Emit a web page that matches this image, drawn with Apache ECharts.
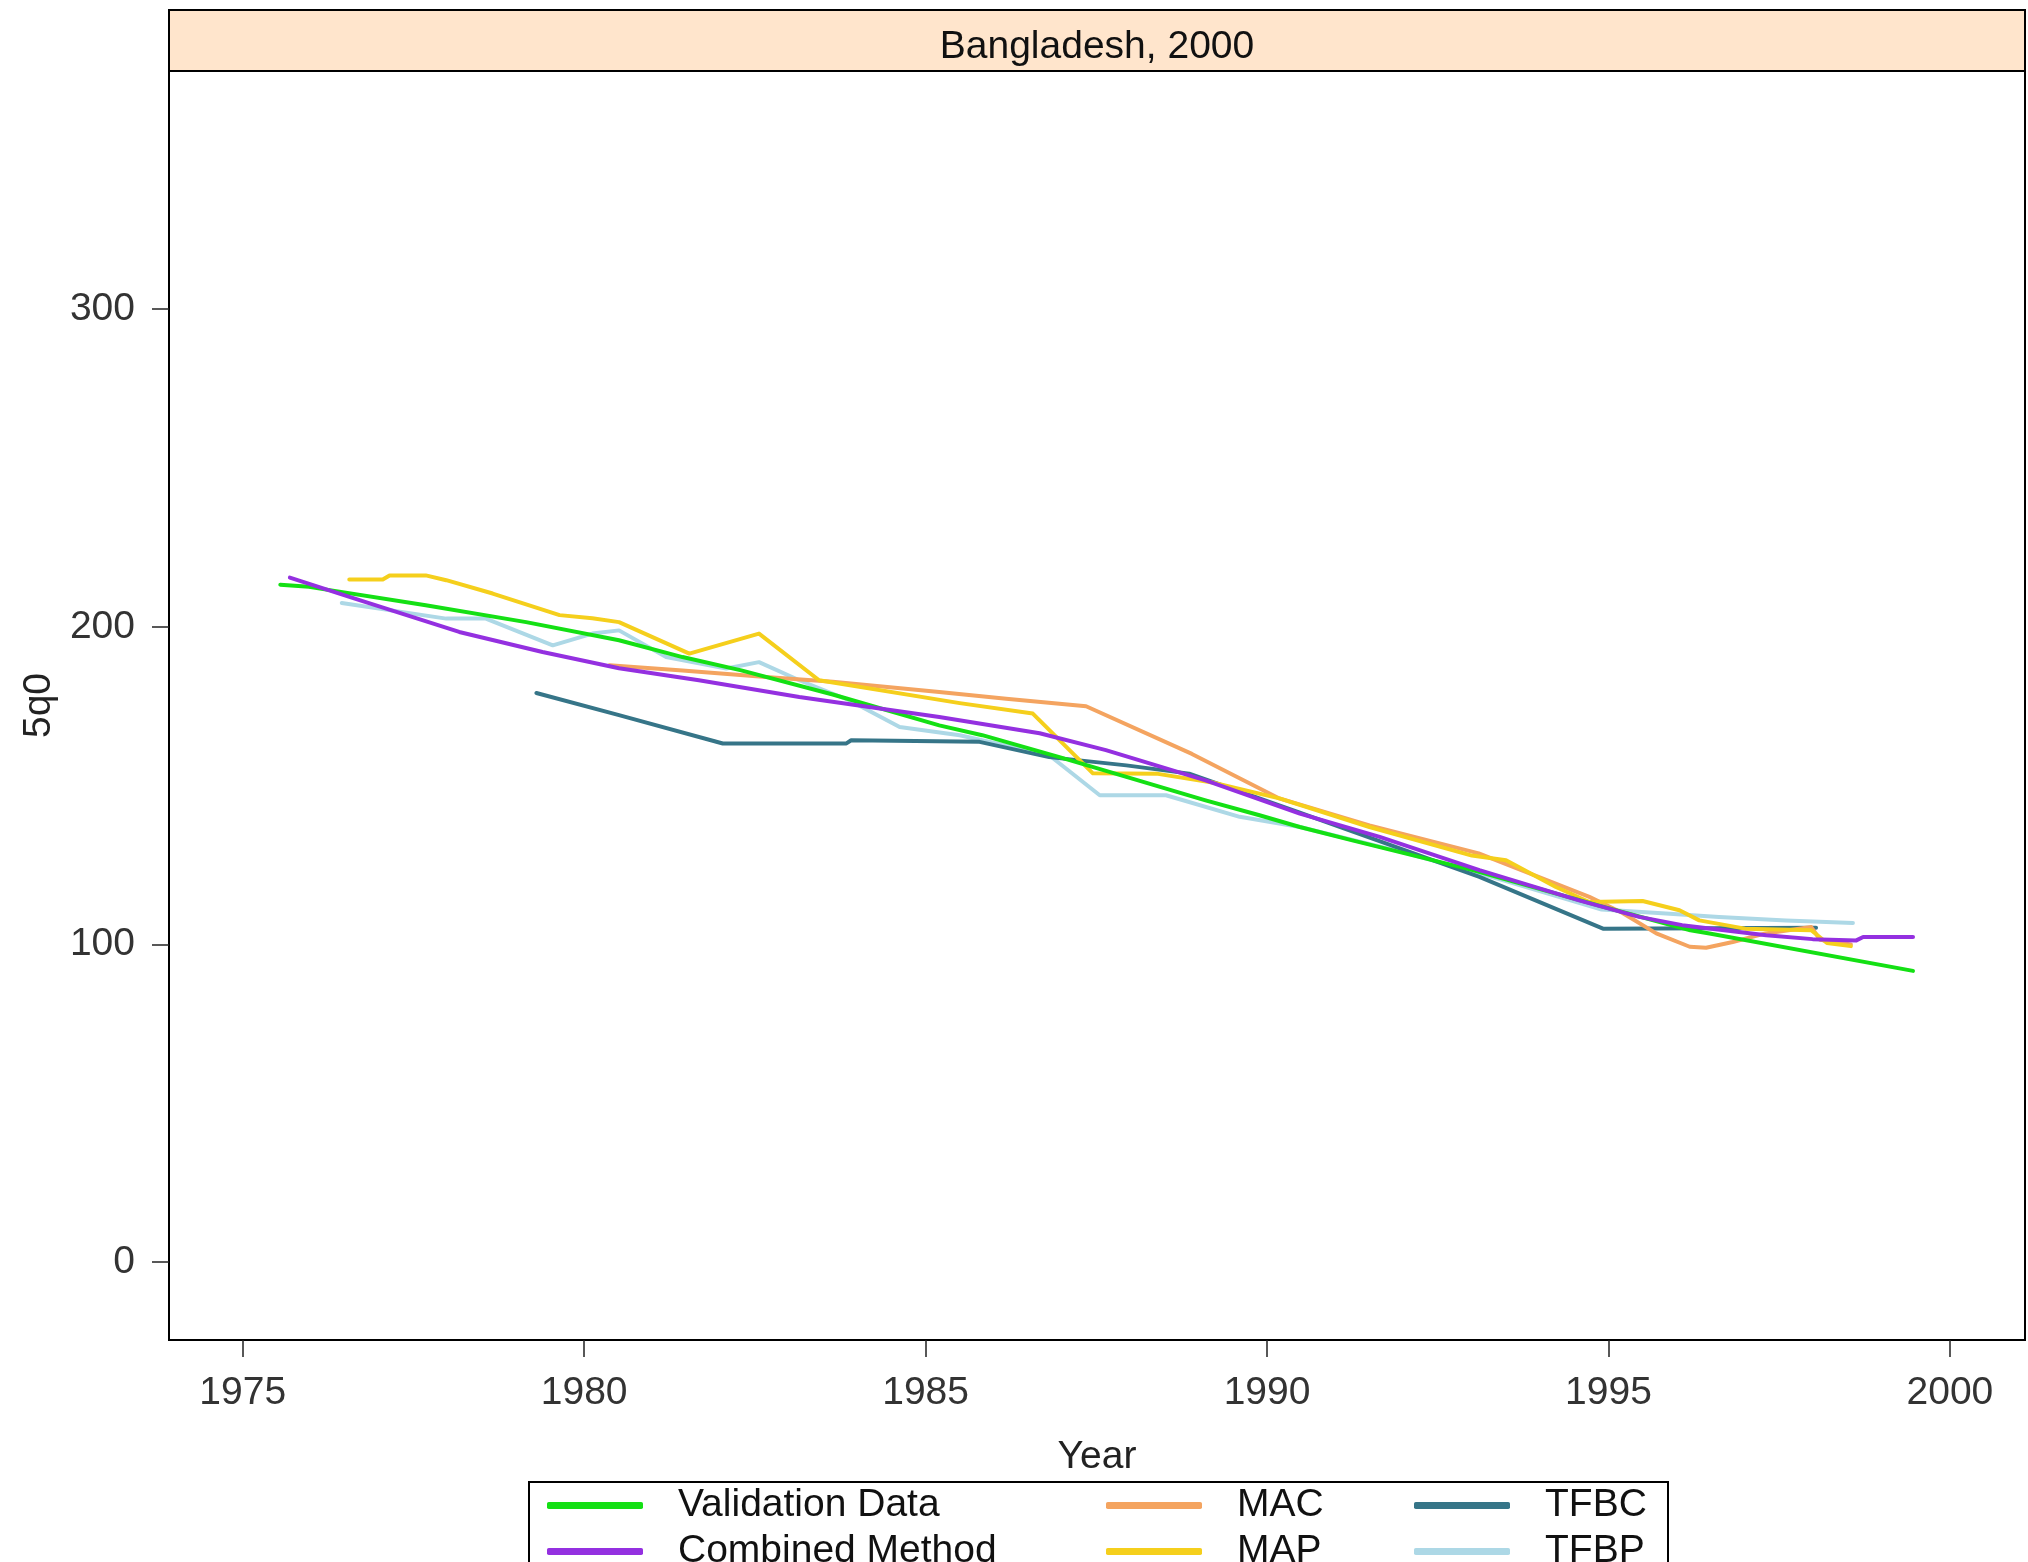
<!DOCTYPE html>
<html>
<head>
<meta charset="utf-8">
<script src="https://cdn.jsdelivr.net/npm/echarts@6/dist/echarts.min.js"></script>
<style>html,body{margin:0;padding:0;background:#fff}#c{width:2028px;height:1562px}</style>
</head>
<body>
<div id="c"></div>
<script>
// ---- data (year, 5q0) ----
const validationData = [[1975.55,213.3],[1975.97,212.6],[1977.68,206.8],[1979.15,201.5],[1980.51,195.8],[1981.44,190.5],[1982.3,186.3],[1983.64,178.7],[1985.2,169.0],[1985.83,165.9],[1986.96,159.0],[1987.94,152.8],[1989.1,145.4],[1989.89,140.7],[1990.48,137.0],[1991.25,132.8],[1993.0,123.5],[1994.9,112.0],[1996.2,104.5],[1996.48,103.5],[1999.46,91.7]];
const combinedData = [[1975.69,215.5],[1976.71,208.4],[1978.17,198.4],[1979.39,192.1],[1980.51,187.0],[1981.68,183.2],[1983.15,177.9],[1985.2,171.6],[1986.67,166.5],[1987.64,161.2],[1989.1,151.7],[1990.48,141.2],[1991.65,133.9],[1993.11,123.4],[1994.57,113.9],[1995.45,108.7],[1996.08,106.1],[1997.31,102.9],[1997.99,101.7],[1998.63,101.3],[1998.73,102.4],[1999.46,102.4]];
const macData = [[1980.37,187.9],[1981.44,186.3],[1982.66,184.2],[1983.64,182.7],[1985.2,179.5],[1986.18,177.4],[1987.35,175.0],[1988.9,160.0],[1990.18,146.0],[1991.5,137.5],[1993.1,128.7],[1994.72,115.0],[1995.2,110.0],[1995.7,103.5],[1996.19,99.3],[1996.43,99.0],[1996.82,100.8],[1997.3,103.5],[1997.97,105.5],[1998.1,101.5],[1998.55,100.0]];
const mapData = [[1976.56,214.9],[1977.05,214.9],[1977.15,216.2],[1977.68,216.2],[1977.98,214.7],[1978.66,210.5],[1979.64,203.7],[1980.12,202.7],[1980.51,201.5],[1981.54,191.6],[1982.56,197.9],[1983.44,183.2],[1985.5,176.0],[1986.57,172.7],[1987.45,153.9],[1988.38,153.8],[1989.2,151.0],[1990.18,146.0],[1991.5,137.0],[1993.0,128.0],[1993.5,126.5],[1994.23,118.1],[1994.72,113.4],[1995.5,113.7],[1996.04,110.8],[1996.33,107.6],[1997.0,105.0],[1997.97,104.5],[1998.2,100.5],[1998.55,99.5]];
const tfbcData = [[1979.3,179.2],[1980.51,172.2],[1982.03,163.3],[1983.84,163.3],[1983.91,164.3],[1985.79,163.8],[1986.81,159.0],[1987.94,156.4],[1988.86,153.8],[1990.48,141.5],[1993.11,121.3],[1994.92,105.0],[1998.04,105.3]];
const tfbpData = [[1976.45,207.5],[1977.98,202.6],[1978.56,202.6],[1979.54,194.2],[1980.12,197.9],[1980.51,198.9],[1981.2,190.5],[1982.08,186.9],[1982.56,188.9],[1983.15,183.2],[1983.88,176.9],[1984.62,168.5],[1985.5,165.9],[1986.81,159.6],[1987.55,147.0],[1988.52,147.0],[1989.6,140.2],[1990.48,137.0],[1992.0,129.0],[1993.5,120.0],[1994.9,111.0],[1995.84,109.8],[1996.62,108.7],[1997.6,107.6],[1998.58,106.8]];

const xTicks = [1975, 1980, 1985, 1990, 1995, 2000];
const yTicks = [0, 100, 200, 300];
const seriesNames = ['Validation Data', 'Combined Method', 'MAC', 'MAP', 'TFBC', 'TFBP'];
const stripTitle = 'Bangladesh, 2000';

// ---- font choice ----
function hasFont(name) {
  const c = document.createElement('canvas').getContext('2d');
  const s = 'Validation Data 1975 MAC';
  c.font = '45px monospace'; const a = c.measureText(s).width;
  c.font = '45px "' + name + '", monospace'; const b = c.measureText(s).width;
  return Math.abs(a - b) > 0.5;
}
let FONT = '"Liberation Sans", Arial, sans-serif', FS = 39;
if (hasFont('Liberation Sans Narrow')) { FONT = '"Liberation Sans Narrow"'; FS = 45; }
else if (hasFont('Arial Narrow')) { FONT = '"Arial Narrow"'; FS = 45; }

const colors = {
  'Validation Data': '#14e014',
  'Combined Method': '#9430e0',
  'MAC': '#f4a460',
  'MAP': '#f5cf1c',
  'TFBC': '#367588',
  'TFBP': '#add8e6'
};

const GL = 169, GR = 2025, GT = 71, GB = 1340;

function mk(name, data, z) {
  return {
    type: 'line', name: name, data: data, symbol: 'none', showSymbol: false,
    smooth: false, animation: false, z: z,
    lineStyle: { color: colors[name], width: 4, cap: 'round', join: 'round' },
    itemStyle: { color: colors[name] },
    emphasis: { disabled: true }
  };
}

const legendBase = {
  orient: 'vertical', top: 1486, height: 150, width: 400, itemWidth: 96, itemHeight: 7, itemGap: 7,
  icon: 'roundRect', selectedMode: false, padding: 0,
  textStyle: { fontFamily: FONT, fontSize: FS, color: '#111', lineHeight: 34, padding: [0, 0, 0, 30] }
};

const chart = echarts.init(document.getElementById('c'), null, { renderer: 'canvas' });
chart.setOption({
  backgroundColor: '#fff',
  animation: false,
  textStyle: { fontFamily: FONT },
  grid: {
    left: GL, top: GT, width: GR - GL, height: GB - GT,
    show: true, borderColor: '#000', borderWidth: 2, backgroundColor: 'transparent',
    outerBoundsMode: 'none', containLabel: false
  },
  xAxis: {
    type: 'value', min: 1973.92, max: 2001.1,
    name: 'Year', nameLocation: 'middle', nameGap: 98,
    nameTextStyle: { fontFamily: FONT, fontSize: FS, color: '#222' },
    axisLine: { show: true, onZero: false, lineStyle: { color: '#000', width: 2 } },
    axisTick: { show: true, length: 17, customValues: xTicks, lineStyle: { color: '#222', width: 1.5 } },
    axisLabel: { show: true, customValues: xTicks, margin: 34, fontFamily: FONT, fontSize: FS, color: '#333', formatter: v => String(v) },
    splitLine: { show: false }
  },
  yAxis: {
    type: 'value', min: -24.5, max: 375,
    name: '5q0', nameLocation: 'middle', nameGap: 110, nameRotate: 90,
    nameTextStyle: { fontFamily: FONT, fontSize: FS, color: '#222' },
    axisLine: { show: true, onZero: false, lineStyle: { color: '#000', width: 2 } },
    axisTick: { show: true, length: 17, customValues: yTicks, lineStyle: { color: '#222', width: 1.5 } },
    axisLabel: { show: true, customValues: yTicks, margin: 34, fontFamily: FONT, fontSize: FS, color: '#333', formatter: v => String(v) },
    splitLine: { show: false }
  },
  legend: [
    Object.assign({}, legendBase, { left: 547, data: [seriesNames[0], seriesNames[1]] }),
    Object.assign({}, legendBase, { left: 1106, width: 300, data: [seriesNames[2], seriesNames[3]] }),
    Object.assign({}, legendBase, { left: 1414, width: 250, data: [seriesNames[4], seriesNames[5]] })
  ],
  graphic: [
    { type: 'rect', shape: { x: GL, y: 10, width: GR - GL, height: GT - 10 },
      style: { fill: '#ffe5cc', stroke: '#000', lineWidth: 2 }, z: 10 },
    { type: 'text', x: (GL + GR) / 2, y: 47,
      style: { text: stripTitle, fontFamily: FONT, fontSize: FS, fill: '#111', align: 'center', verticalAlign: 'middle' }, z: 11 },
    { type: 'rect', shape: { x: 529, y: 1482, width: 1139, height: 120 },
      style: { fill: 'none', stroke: '#000', lineWidth: 2 }, z: 1 }
  ],
  series: [
    mk('TFBP', tfbpData, 2),
    mk('TFBC', tfbcData, 2),
    mk('MAC', macData, 2),
    mk('MAP', mapData, 2),
    mk('Validation Data', validationData, 2),
    mk('Combined Method', combinedData, 2)
  ]
});
</script>
</body>
</html>
